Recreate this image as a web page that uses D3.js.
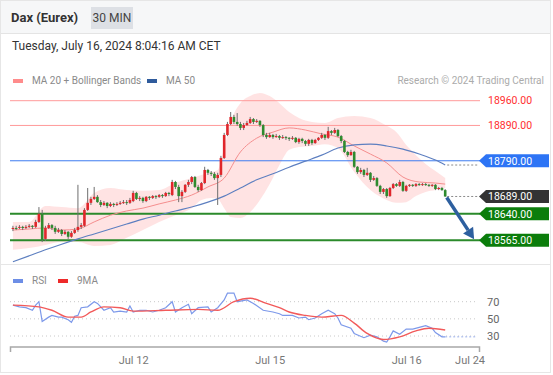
<!DOCTYPE html>
<html>
<head>
<meta charset="utf-8">
<script src="https://cdn.jsdelivr.net/npm/d3@7"></script>
<style>
  body { margin: 0; background: #fff; }
  svg { display: block; font-family: Roboto, "Liberation Sans", Arial, sans-serif; }
</style>
</head>
<body>
<svg id="chart" width="553" height="375"></svg>
<script>
// 30 min candles, Jul 11 -> Jul 16 2024 08:00
const opens = [18597,18600,18600,18603,18600,18603,18606,18603,18617,18640,18569,18600,18608,18600,18589,18594,18583,18589,18575,18586,
  18594,18603,18606,18651,18671,18682,18688,18673,18665,18671,18662,18668,18665,18668,18671,18673,18671,18676,18699,18682,
  18685,18676,18688,18685,18690,18688,18693,18690,18699,18693,18730,18716,18690,18702,18722,18730,18744,18716,18707,18727,
  18764,18756,18753,18741,18750,18798,18863,18894,18914,18900,18894,18883,18891,18897,18908,18900,18903,18891,18863,18857,
  18863,18857,18860,18855,18857,18855,18852,18855,18843,18852,18846,18838,18849,18840,18849,18855,18863,18855,18874,18869,
  18877,18860,18846,18815,18806,18815,18773,18758,18764,18750,18756,18736,18741,18719,18702,18710,18690,18713,18724,18719,
  18730,18705,18719,18722,18719,18724,18722,18724,18722,18719,18722,18710,18713,18707];
const highs = [18606,18606,18608,18606,18608,18611,18608,18623,18659,18651,18606,18614,18611,18606,18600,18597,18594,18591,18591,18600,
  18722,18614,18656,18713,18688,18716,18693,18679,18676,18673,18673,18671,18673,18676,18679,18679,18685,18705,18702,18690,
  18688,18690,18690,18693,18693,18696,18696,18702,18702,18736,18733,18722,18707,18724,18736,18747,18747,18722,18730,18773,
  18767,18761,18758,18756,18804,18869,18900,18928,18920,18925,18900,18897,18903,18914,18911,18908,18905,18894,18869,18869,
  18866,18866,18863,18863,18860,18857,18860,18857,18855,18855,18849,18852,18852,18852,18857,18869,18866,18886,18877,18883,
  18880,18863,18849,18818,18821,18818,18775,18770,18767,18770,18758,18747,18744,18722,18713,18713,18716,18727,18727,18736,
  18733,18722,18724,18724,18727,18727,18727,18727,18724,18724,18724,18716,18716,18710];
const lows = [18591,18594,18597,18594,18597,18600,18597,18600,18614,18560,18563,18597,18594,18583,18586,18577,18580,18569,18572,18583,
  18589,18597,18603,18648,18665,18679,18671,18659,18662,18656,18659,18659,18662,18665,18668,18665,18668,18673,18679,18676,
  18671,18673,18679,18682,18682,18685,18685,18688,18690,18690,18710,18673,18673,18699,18716,18724,18713,18702,18705,18724,
  18750,18747,18736,18665,18744,18795,18860,18891,18894,18889,18877,18877,18889,18894,18894,18897,18886,18857,18852,18855,
  18852,18855,18849,18852,18849,18846,18849,18840,18838,18840,18832,18832,18835,18838,18846,18852,18849,18852,18863,18866,
  18857,18840,18812,18801,18804,18770,18753,18753,18744,18747,18730,18733,18716,18696,18696,18685,18688,18710,18716,18716,
  18702,18702,18716,18716,18716,18719,18719,18719,18716,18716,18707,18707,18705,18688];
const closes = [18600,18599,18603,18600,18603,18606,18603,18617,18640,18566,18600,18608,18600,18589,18594,18583,18589,18575,18586,18594,
  18603,18608,18651,18671,18682,18688,18673,18665,18671,18662,18668,18665,18668,18671,18673,18671,18679,18699,18682,18685,
  18676,18688,18685,18690,18688,18693,18690,18699,18696,18730,18716,18690,18702,18722,18730,18744,18716,18707,18727,18764,
  18756,18753,18741,18750,18798,18863,18894,18914,18900,18894,18883,18891,18897,18908,18900,18903,18891,18863,18857,18863,
  18857,18860,18855,18857,18855,18852,18855,18843,18852,18846,18838,18849,18840,18849,18855,18863,18855,18874,18869,18877,
  18860,18846,18815,18806,18815,18773,18758,18764,18750,18756,18736,18741,18719,18702,18710,18690,18713,18724,18719,18730,
  18705,18719,18722,18719,18724,18722,18724,18722,18719,18722,18710,18713,18707,18689];

// moving averages (read every 5 bars)
const maBars = [0,5,10,15,20,25,30,35,40,45,50,55,60,65,70,75,80,85,90,95,100,105,110,115,120,125,130,133];
const ma20 = [18594,18597,18600,18594,18597,18617,18636,18648,18656,18668,18679,18693,18716,18741,18815,18854,18871,18883,18877,18866,18857,18832,18809,18784,18744,18730,18727,18724];
const ma50 = [18504,18521,18538,18554,18569,18583,18597,18611,18625,18636,18648,18659,18673,18690,18713,18736,18753,18772,18789,18806,18826,18835,18837,18832,18823,18809,18792,18778];

// Bollinger bands
const bbBars = [0,5,10,15,20,25,30,35,40,45,50,55,58,61,63,65,67,70,73,76,79,82,85,88,92,96,100,105,110,115,118,121,124,127,130,133];
const bbUpper = [18617,18617,18662,18659,18656,18699,18713,18707,18705,18707,18727,18741,18750,18758,18764,18826,18900,18953,18973,18982,18973,18953,18928,18911,18900,18897,18911,18917,18911,18889,18871,18835,18806,18781,18761,18741];
const bbLower = [18538,18543,18552,18560,18560,18549,18552,18572,18594,18617,18636,18656,18679,18685,18682,18656,18631,18628,18645,18679,18724,18778,18821,18829,18832,18837,18826,18758,18707,18679,18671,18673,18690,18702,18707,18713];

// RSI and its 9 period MA
const rsiBars = [0,2,4,6,7,8,9,11,12,14,15,17,18,19,20,21,23,25,26,28,30,31,33,35,36,37,39,41,43,45,47,49,50,52,54,55,57,60,61,63,65,66,68,69,72,74,77,80,82,83,86,88,90,91,93,95,97,99,100,101,104,105,108,110,112,114,115,116,117,119,121,123,125,127,129,130,132,133];
const rsi = [66,64,63,60,66,70,47,52,54,52,52,49,46,53,54,63,64,70,68,60,63,58,59,58,65,58,60,60,58,60,63,70,58,63,67,56,63,64,58,63,72,80,80,70,72,68,60,58,56,54,54,51,52,49,51,56,60,56,51,43,39,33,28,31,29,24,23,29,36,32,38,38,40,42,39,34,29,29];
const rsiMaBars = [0,8,12,17,21,24,28,33,37,47,57,63,68,73,78,82,85,90,95,101,105,109,114,119,124,128,133];
const rsiMa = [66,64,60,52,52,58,64,63,59,60,61,60,70,74,68,63,58,54,52,54,45,33,26,29,36,39,37];
const rsiTicks = [70, 50, 30];

// key levels
const levelValues = [18960, 18890, 18790, 18640, 18565];
const levelTypes = ["res", "res", "pivot", "sup", "sup"];
const targetValue = 18565;

// x axis
const tickBars = [37, 79, 121, 140.5];
const tickLabels = ["Jul 12", "Jul 15", "Jul 16", "Jul 24"];

const W = 553, H = 375;
const textDark = "#333";
const upColor = "#e0262b";
const downColor = "#2e8b2e";
const levelStyle = {
  res:   { line: "#ff9a9a", width: 1, text: "#ff3030" },
  pivot: { line: "#3d7bf0", width: 1, fill: "#2d74f5" },
  sup:   { line: "#2b8a2b", width: 2, fill: "#0b7d0b" }
};

let svg = d3.select("#chart");

let x = d3.scaleLinear().domain([-0.9, 143.4]).range([10, 479]);
let y = d3.scaleLinear().domain([18565, 18960]).range([240.3, 100.7]);
let yRsi = d3.scaleLinear().domain([30, 70]).range([336, 301.7]);

// frame and header
svg.append("rect").attr("x", 0).attr("y", 0).attr("width", 550).attr("height", 33).attr("fill", "#f6f7f8");
svg.append("line").attr("x1", 0).attr("x2", 550).attr("y1", 33.5).attr("y2", 33.5).style("stroke", "#e4e4e4");
svg.append("rect").attr("x", 0.5).attr("y", 0.5).attr("width", 550).attr("height", H - 3)
  .attr("fill", "none").style("stroke", "#e6e6e6");

svg.append("text").attr("x", 11).attr("y", 22)
  .text("Dax (Eurex)")
  .style("font-size", "13px").style("font-weight", "bold").style("fill", textDark);
svg.append("rect").attr("x", 91).attr("y", 7).attr("width", 42).attr("height", 22).attr("fill", "#dde0e5");
svg.append("text").attr("x", 112).attr("y", 22)
  .text("30 MIN")
  .style("text-anchor", "middle").style("font-size", "12px").style("fill", "#444");
svg.append("text").attr("x", 12).attr("y", 49.5)
  .text("Tuesday, July 16, 2024 8:04:16 AM CET")
  .style("font-size", "12px").style("fill", textDark);

// legends
function addLegend(lx, ly, color, label) {
  svg.append("rect").attr("x", lx).attr("y", ly - 5).attr("width", 10).attr("height", 4).attr("fill", color);
  svg.append("text").attr("x", lx + 19).attr("y", ly)
    .text(label)
    .style("font-size", "10px").style("fill", "#8a8a8a");
}
addLegend(13, 84, "#ff8c8c", "MA 20 + Bollinger Bands");
addLegend(147, 84, "#2f5b9c", "MA 50");
svg.append("text").attr("x", 544).attr("y", 84)
  .text("Research \u00a9 2024 Trading Central")
  .style("text-anchor", "end").style("font-size", "10px").style("fill", "#ababab");

// price panel
svg.append("clipPath").attr("id", "clipPrice")
  .append("rect").attr("x", 0).attr("y", 88).attr("width", W).attr("height", 175);
let price = svg.append("g").attr("clip-path", "url(#clipPrice)");

let band = d3.area()
  .x(function(d, i) { return x(bbBars[i]); })
  .y0(function(d, i) { return y(bbLower[i]); })
  .y1(function(d) { return y(d); })
  .curve(d3.curveMonotoneX);
price.append("path").datum(bbUpper)
  .attr("d", band)
  .attr("fill", "#ffdede")
  .attr("opacity", 0.85);

let levels = levelValues.map(function(v, i) { return { value: v, type: levelTypes[i] }; });
price.selectAll(".level").data(levels).enter().append("line")
  .attr("class", "level")
  .attr("x1", 10).attr("x2", 480)
  .attr("y1", function(d) { return y(d.value); })
  .attr("y2", function(d) { return y(d.value); })
  .style("stroke", function(d) { return levelStyle[d.type].line; })
  .style("stroke-width", function(d) { return levelStyle[d.type].width; });

let maLine = function(values) {
  return d3.line()
    .x(function(d, i) { return x(maBars[i]); })
    .y(function(d) { return y(d); })
    .curve(d3.curveMonotoneX)(values);
};
price.append("path").attr("d", maLine(ma20))
  .style("fill", "none").style("stroke", "#f58e8e").style("stroke-width", 1);
price.append("path").attr("d", maLine(ma50))
  .style("fill", "none").style("stroke", "#5d7fc0").style("stroke-width", 1.1);

// candles
let bars = d3.range(closes.length);
price.selectAll(".wick").data(bars).enter().append("line")
  .attr("class", "wick")
  .attr("x1", function(i) { return x(i); })
  .attr("x2", function(i) { return x(i); })
  .attr("y1", function(i) { return y(highs[i]); })
  .attr("y2", function(i) { return y(lows[i]); })
  .style("stroke", "#6e6e6e")
  .style("stroke-width", 1);
price.selectAll(".body").data(bars).enter().append("rect")
  .attr("class", "body")
  .attr("x", function(i) { return x(i) - 1.3; })
  .attr("width", 2.6)
  .attr("y", function(i) { return y(Math.max(opens[i], closes[i])); })
  .attr("height", function(i) { return Math.max(1, Math.abs(y(opens[i]) - y(closes[i]))); })
  .attr("fill", function(i) { return closes[i] >= opens[i] ? upColor : downColor; });

// dotted extensions to the price scale
let last = closes.length - 1;
svg.append("line")
  .attr("x1", x(last) + 2).attr("x2", 479)
  .attr("y1", y(closes[last])).attr("y2", y(closes[last]))
  .style("stroke", "#8a8a8a").style("stroke-dasharray", "2,2");
svg.append("line")
  .attr("x1", x(last) + 2).attr("x2", 479)
  .attr("y1", y(ma50[ma50.length - 1])).attr("y2", y(ma50[ma50.length - 1]))
  .style("stroke", "#8a8a8a").style("stroke-dasharray", "2,2");

// forecast arrow
let ax0 = x(last) + 1.5, ay0 = y(closes[last]) + 1;
let ax1 = x(last + 8.9), ay1 = y(targetValue) - 1;
let ang = Math.atan2(ay1 - ay0, ax1 - ax0);
let headLen = 11, headW = 6;
let bx = ax1 - headLen * Math.cos(ang), by = ay1 - headLen * Math.sin(ang);
svg.append("line")
  .attr("x1", ax0).attr("y1", ay0).attr("x2", bx).attr("y2", by)
  .style("stroke", "#2d5f9f").style("stroke-width", 3.5);
svg.append("path")
  .attr("d", "M" + ax1 + "," + ay1 +
    "L" + (bx + headW * Math.sin(ang)) + "," + (by - headW * Math.cos(ang)) +
    "L" + (bx - headW * Math.sin(ang)) + "," + (by + headW * Math.cos(ang)) + "Z")
  .style("fill", "#2d5f9f");

// price tags
function addTag(value, fill, textColor) {
  let cy = y(value);
  if (fill) {
    svg.append("path")
      .attr("d", "M 479 " + cy + " L 486 " + (cy - 6.5) + " L 549 " + (cy - 6.5) +
        " L 549 " + (cy + 6.5) + " L 486 " + (cy + 6.5) + " Z")
      .style("fill", fill);
  }
  svg.append("text")
    .attr("x", 488).attr("y", cy)
    .attr("dy", "0.36em")
    .text(d3.format(".2f")(value))
    .style("font-size", "10.5px")
    .style("fill", textColor);
}
levels.forEach(function(d) {
  let st = levelStyle[d.type];
  if (d.type === "res") addTag(d.value, null, st.text);
  else addTag(d.value, st.fill, "#fff");
});
addTag(closes[last], "#333333", "#fff");

// panel separator
svg.append("line").attr("x1", 0).attr("x2", 550).attr("y1", 264.5).attr("y2", 264.5).style("stroke", "#e6e6e6");

// RSI panel
addLegend(13, 284, "#6d8ee6", "RSI");
addLegend(58, 284, "#ee2a2a", "9MA");

svg.selectAll(".rsiGrid").data(rsiTicks).enter().append("line")
  .attr("class", "rsiGrid")
  .attr("x1", 10).attr("x2", 476)
  .attr("y1", function(d) { return yRsi(d); })
  .attr("y2", function(d) { return yRsi(d); })
  .style("stroke", "#c8c8c8").style("stroke-dasharray", "1,3");
svg.selectAll(".rsiTick").data(rsiTicks).enter().append("text")
  .attr("class", "rsiTick")
  .attr("x", 487)
  .attr("y", function(d) { return yRsi(d); })
  .attr("dy", "0.36em")
  .text(function(d) { return d; })
  .style("font-size", "11px").style("fill", "#666");

let rsiLine = d3.line()
  .x(function(d, i) { return x(rsiBars[i]); })
  .y(function(d) { return yRsi(d); });
svg.append("path").attr("d", rsiLine(rsi))
  .style("fill", "none").style("stroke", "#7d99ea").style("stroke-width", 1.2);
svg.append("line")
  .attr("x1", x(rsiBars[rsiBars.length - 1])).attr("x2", 476)
  .attr("y1", yRsi(rsi[rsi.length - 1])).attr("y2", yRsi(rsi[rsi.length - 1]))
  .style("stroke", "#9fb3ee").style("stroke-dasharray", "2,2");

let rsiMaLine = d3.line()
  .x(function(d, i) { return x(rsiMaBars[i]); })
  .y(function(d) { return yRsi(d); })
  .curve(d3.curveMonotoneX);
svg.append("path").attr("d", rsiMaLine(rsiMa))
  .style("fill", "none").style("stroke", "#f25a5a").style("stroke-width", 1.4);

// time axis
let xAxis = d3.axisBottom(x)
  .tickValues(tickBars)
  .tickFormat(function(d, i) { return tickLabels[i]; })
  .tickSize(0)
  .tickPadding(9);
let axisG = svg.append("g").attr("transform", "translate(0,347)").call(xAxis);
axisG.select(".domain").remove();
axisG.selectAll("text").style("font-size", "11px").style("fill", "#777")
  .style("font-family", "Roboto, 'Liberation Sans', Arial, sans-serif");
svg.append("path")
  .attr("d", "M 10.5 352 L 10.5 347 L 479.5 347 L 479.5 352")
  .style("fill", "none").style("stroke", "#a8a8a8").style("stroke-width", 1.5);

svg.append("line").attr("x1", 0).attr("x2", 550).attr("y1", 372.5).attr("y2", 372.5).style("stroke", "#e6e6e6");
</script>
</body>
</html>
